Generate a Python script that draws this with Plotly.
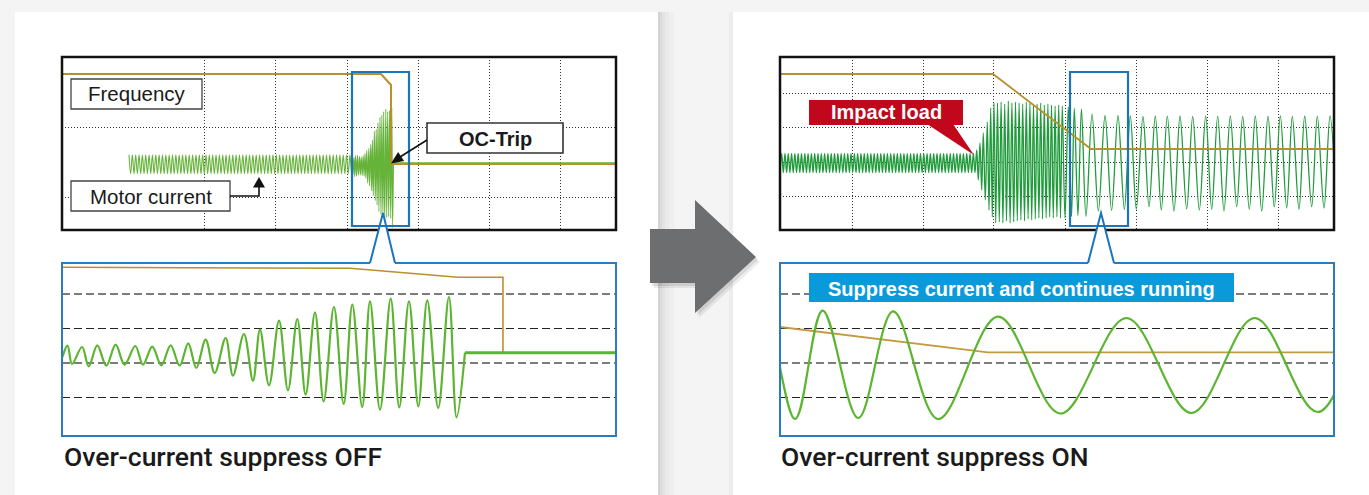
import plotly.graph_objects as go

W, H = 1369, 495

# ------------------------------------------------------------------ data
# Left example: over-current suppress OFF
# t = time (overview screen samples: upper scope 0..554, zoom window 290..347)
# v = signal level above the current zero line
off_steady_span = [67.0, 289.6]
off_steady_count = 134
off_steady_amp = 9.5

off_burst_t = [290.55, 291.03, 292.06, 292.75, 293.63, 294.56, 295.52, 296.44,
               297.54, 298.33, 299.29, 300.22, 301.18, 302.11, 302.99, 303.82,
               304.78, 305.71, 306.84, 307.59, 308.72, 309.65, 310.37, 311.30,
               312.33, 313.25, 314.21, 315.07, 316.03, 316.92, 317.98, 318.98,
               319.87, 320.89, 321.69, 322.72, 323.82, 324.70, 325.70, 326.66,
               327.58, 328.71, 329.81, 330.60, 331.46]
off_burst_v = [8.3, -10.0, 7.0, -12.3, 8.7, -11.7, 9.3, -10.7,
               8.0, -10.7, 7.3, -11.3, 8.7, -11.7, 10.7, -14.0,
               14.3, -19.0, 16.0, -21.7, 20.0, -26.7, 24.3, -31.3,
               33.3, -36.3, 35.0, -40.7, 41.7, -47.3, 47.0, -50.0,
               49.3, -53.0, 52.7, -55.7, 55.3, -53.3, 52.7, -52.3,
               53.7, -54.0, 57.0, -63.3, 1.3]
off_trip_t = [331.46, 554.0]
off_trip_v = [1.3, 1.3]

off_freq_overview_t = [0, 319, 329, 329, 554]
off_freq_overview_v = [90.3, 90.3, 79.3, 0.3, 0.3]
off_freq_zoom_t = [290, 319.63, 330.74, 335.37, 335.37]
off_freq_zoom_v = [86.7, 85.7, 76.7, 76.7, 1.3]

# Right example: over-current suppress ON
on_steady_span = [0.0, 195.0]
on_steady_count = 119
on_steady_amp = 9.7

on_growth_t = [196.7, 198.3, 200.0, 201.7, 203.3, 205.3, 207.3, 209.0, 210.7, 212.3, 214.0, 215.7]
on_growth_v = [13, -17, 20, -27, 30, -37, 41, -47, 55, -54, 60, -60]

on_big_span = [215.7, 282.3]
on_big_v = [60, -59, 61, -60, 59, -58,
            62, -60, 60, -59, 61, -58,
            60, -57, 59, -58, 61, -56,
            60, -57, 58, -56, 59, -55,
            60, -56, 58, -55, 59, -54,
            58, -55, 57, -54, 58, -55]

on_zoom_t = [282.3, 285.0, 288.3, 291.52, 294.31, 297.91, 301.44, 305.99,
             312.05, 318.36, 325.02, 331.59, 337.98, 344.37]
on_zoom_v = [57, -55, 56, -53.5, 54.8, -52.5, 54.2, -53.5,
             48.8, -48, 47.5, -47.5, 47.5, -46.5]

on_after_t = [350.3, 356.3, 363.0, 369.0, 375.3, 381.3, 387.3, 394.0, 400.0, 406.7,
              412.7, 419.3, 425.7, 431.7, 437.7, 444.0, 450.3, 456.7, 462.7, 469.3,
              475.3, 481.7, 488.0, 494.3, 500.3, 506.7, 512.3, 519.0, 524.7, 531.7,
              537.3, 544.0, 550.0, 556.5]
on_after_v = [47, -46.3, 46.5, -43.7, 47, -47, 46.8, -48, 47, -46,
              46.5, -47, 47, -46.3, 46.8, -48, 47, -43.7, 46.5, -46.3,
              47, -48, 46.8, -43.7, 47, -45, 46.5, -46.3, 47, -43.7,
              46.8, -45, 47, -46]

on_freq_overview_t = [0, 213, 311, 554]
on_freq_overview_v = [89, 89, 14, 14]
on_freq_zoom_t = [290, 311.01, 346]
on_freq_zoom_v = [38.5, 13.2, 13.2]

# scope grid (divisions) and zoom reference levels
tl_vgrid = [142, 213, 285, 356, 427, 498]
tl_hgrid = [37.3, -32.7]
tr_vgrid = [72, 143, 213, 285, 356, 427, 498]
tr_hgrid = [70, 36, 1, -33]
bl_dash_black = [25.3, -43.3]
bl_dash_gray = [60.3, -9.0]
br_dash_black = [36.8, -31.8]
br_dash_gray = [71.8, 2.5]

labels = ["Frequency", "Motor current", "OC-Trip", "Impact load",
          "Suppress current and continues running",
          "Over-current suppress OFF", "Over-current suppress ON"]


# ------------------------------------------------------------------ helpers
def steady(span, count, amp, first_sign):
    step = (span[1] - span[0]) / (count - 1)
    ts = [span[0] + i * step for i in range(count)]
    vs = [first_sign * amp * (1 if i % 2 == 0 else -1) for i in range(count)]
    return ts, vs


def spaced(span, vals):
    step = (span[1] - span[0]) / (len(vals) + 1)
    return [span[0] + (i + 1) * step for i in range(len(vals))], list(vals)


st_t, st_v = steady(off_steady_span, off_steady_count, off_steady_amp, 1)
off_t = st_t + off_burst_t
off_v = st_v + off_burst_v

s2_t, s2_v = steady(on_steady_span, on_steady_count, on_steady_amp, -1)
bg_t, bg_v = spaced(on_big_span, on_big_v)
on_t = s2_t + on_growth_t + bg_t + on_zoom_t + on_after_t
on_v = s2_v + on_growth_v + bg_v + on_zoom_v + on_after_v

fig = go.Figure()


def add(x, y, axes, color, width, shape="spline"):
    fig.add_trace(go.Scatter(x=x, y=y, xaxis=axes[0], yaxis=axes[1], mode="lines",
                             line=dict(color=color, width=width, shape=shape, simplify=False),
                             hoverinfo="skip", showlegend=False))


GOLD = "#b8902c"
# upper-left scope (overview, OFF)
add(off_t, off_v, ("x", "y"), "#66b33a", 1.1)
add(off_trip_t, off_trip_v, ("x", "y"), "#66b33a", 1.5, "linear")
add(off_freq_overview_t, off_freq_overview_v, ("x", "y"), GOLD, 2, "linear")
# lower-left zoom (OFF)
add(off_freq_zoom_t, off_freq_zoom_v, ("x2", "y2"), GOLD, 1.6, "linear")
add(off_t, off_v, ("x2", "y2"), "#5cb531", 2.2)
add(off_trip_t, off_trip_v, ("x2", "y2"), "#5cb531", 3, "linear")
# upper-right scope (overview, ON)
add(on_t, on_v, ("x3", "y3"), "#1f9b3b", 1.3)
add(on_freq_overview_t, on_freq_overview_v, ("x3", "y3"), GOLD, 1.8, "linear")
# lower-right zoom (ON)
add(on_freq_zoom_t, on_freq_zoom_v, ("x4", "y4"), "#c29a40", 1.8, "linear")
add(on_t, on_v, ("x4", "y4"), "#5cb531", 2.2)


def fx(x):
    return x / W


def fy(y):
    return 1 - y / H


def axis(domain, rng, anchor, vals=None, color=None, dash=None, width=1.0, minor=None):
    d = dict(domain=domain, range=rng, anchor=anchor, showticklabels=False, ticks="",
             zeroline=False, showline=False, fixedrange=True)
    if vals:
        d.update(tickmode="array", tickvals=vals, showgrid=True, gridcolor=color,
                 griddash=dash, gridwidth=width)
    else:
        d["showgrid"] = False
    if minor:
        d["minor"] = minor
    return d


DOT = "1px,2px"
DASH = "8px,4px"
tl_x = [fx(62), fx(616)]
tl_y = [fy(230), fy(57)]
bl_x = [fx(62), fx(616)]
bl_y = [fy(436), fy(263)]
tr_x = [fx(780), fx(1334)]
tr_y = [fy(230), fy(57)]
br_x = [fx(780), fx(1334)]
br_y = [fy(436), fy(263)]

minor_bl = dict(tickmode="array", tickvals=bl_dash_gray, showgrid=True, gridcolor="#7c7c7c",
                griddash=DASH, gridwidth=2, ticks="")
minor_br = dict(tickmode="array", tickvals=br_dash_gray, showgrid=True, gridcolor="#7c7c7c",
                griddash=DASH, gridwidth=2, ticks="")

layout_axes = dict(
    xaxis=axis(tl_x, [0, 554], "y", tl_vgrid, "#333333", DOT, 1),
    yaxis=axis(tl_y, [-65.7, 107.3], "x", tl_hgrid, "#333333", DOT, 1),
    xaxis2=axis(bl_x, [290, 347], "y2"),
    yaxis2=axis(bl_y, [-82, 91], "x2", bl_dash_black, "#222222", DASH, 1.4, minor_bl),
    xaxis3=axis(tr_x, [0, 554], "y3", tr_vgrid, "#333333", DOT, 1),
    yaxis3=axis(tr_y, [-67, 106], "x3", tr_hgrid, "#333333", DOT, 1),
    xaxis4=axis(br_x, [290, 346], "y4"),
    yaxis4=axis(br_y, [-70.5, 102.5], "x4", br_dash_black, "#222222", DASH, 1.4, minor_br),
)

shapes = []


def rect(x0, y0, x1, y1, layer="above", fill="rgba(0,0,0,0)", lc=None, lw=0):
    shapes.append(dict(type="rect", xref="paper", yref="paper", x0=fx(x0), x1=fx(x1),
                       y0=fy(y1), y1=fy(y0), layer=layer, fillcolor=fill,
                       line=dict(color=lc or "rgba(0,0,0,0)", width=lw)))


def poly(pts, closed=True, layer="above", fill="rgba(0,0,0,0)", lc=None, lw=0):
    d = "M" + "L".join(f"{fx(x):.6f},{fy(y):.6f}" for x, y in pts) + ("Z" if closed else "")
    shapes.append(dict(type="path", xref="paper", yref="paper", path=d, layer=layer,
                       fillcolor=fill, line=dict(color=lc or "rgba(0,0,0,0)", width=lw)))


# cards and shadows
for a, b, c in [(658, 660, "#d3d3d3"), (660, 662, "#dbdbdb"), (662, 665, "#e3e3e3"),
                (665, 669, "#eaeaea"), (669, 674, "#efefef")]:
    rect(a, 12, b, 500, layer="below", fill=c)
rect(729, 12, 733, 500, layer="below", fill="#ededed")
rect(15, 12, 658, 500, layer="below", fill="white")
rect(733, 12, 1375, 500, layer="below", fill="white")

# scope borders
rect(62, 57, 616, 230, lc="#111111", lw=2.5)
rect(780, 57, 1334, 230, lc="#111111", lw=2.5)

BLUE = "#1b75bc"
# callout triangles (white body)
poly([(370, 263), (383, 213), (395, 263)], fill="white")
poly([(1088, 263), (1101, 213), (1114, 263)], fill="white")
# highlight windows
rect(352, 72, 409, 226, lc=BLUE, lw=2.2)
rect(1070, 72, 1128, 226, lc=BLUE, lw=2.2)
# zoom panel borders with callout opening
poly([(370, 263), (62, 263), (62, 436), (616, 436), (616, 263), (395, 263)], closed=False, lc="#2a7bbf", lw=2)
poly([(1088, 263), (780, 263), (780, 436), (1334, 436), (1334, 263), (1114, 263)], closed=False, lc="#2a7bbf", lw=2)
poly([(370, 263), (383, 213), (395, 263)], closed=False, lc=BLUE, lw=2)
poly([(1088, 263), (1101, 213), (1114, 263)], closed=False, lc=BLUE, lw=2)

# label boxes
rect(71, 79, 202, 109, fill="white", lc="#444444", lw=1.3)
rect(71, 181, 230, 211, fill="white", lc="#444444", lw=1.3)
rect(427, 123, 563, 153, fill="white", lc="#333333", lw=1.6)
# motor current arrow
poly([(230, 196), (259, 196), (259, 186)], closed=False, lc="#111111", lw=1.6)
poly([(253, 187.5), (265, 187.5), (259, 177)], fill="#111111")
# OC-trip arrow
poly([(427, 140), (400, 157)], closed=False, lc="#111111", lw=1.6)
poly([(391, 163.5), (404.1, 161.1), (398.1, 151.9)], fill="#111111")

# impact load callout
RED = "#c0071b"
rect(809, 100, 963, 125, fill=RED)
poly([(927, 124), (953, 124), (974, 155)], fill=RED)
# suppress banner
rect(809, 273, 1234, 302, fill="#0b9ad9")

# big grey arrow with soft shadow
arrow = [(650, 229), (695, 229), (695, 200), (756, 257), (695, 313), (695, 283), (650, 283)]
for dx, dy, op in [(4, 5, "rgba(0,0,0,0.07)"), (2, 3, "rgba(0,0,0,0.09)")]:
    poly([(x + dx, y + dy) for x, y in arrow], fill=op)
poly(arrow, fill="#6d6e70")

FONT = "Liberation Sans, Arial, Helvetica, sans-serif"
CAP_FONT = "Roboto, Liberation Sans, Arial, sans-serif"
annots = []


def ann(text, x, y, size, color="#1a1a1a", anchor="center", bold=False, family=FONT, weight=None):
    f = dict(family=family, size=size, color=color)
    if weight:
        f["weight"] = weight
    annots.append(dict(text=(f"<b>{text}</b>" if bold else text), x=fx(x), y=fy(y),
                       xref="paper", yref="paper", showarrow=False, xanchor=anchor,
                       yanchor="middle", font=f))


ann(labels[0], 136.5, 93.5, 20.5)
ann(labels[1], 150.5, 196.5, 20.5)
ann(labels[2], 495, 139, 20, bold=True)
ann(labels[3], 886, 112, 20, color="white", bold=True)
ann(labels[4], 1022, 288.5, 20, color="white", bold=True)
ann(labels[5], 62, 456, 26.5, anchor="left", family=CAP_FONT, weight=500)
ann(labels[6], 779, 456, 26.5, anchor="left", family=CAP_FONT, weight=500)

fig.update_layout(width=W, height=H, margin=dict(l=0, r=0, t=0, b=0),
                  paper_bgcolor="#f4f4f4", plot_bgcolor="rgba(0,0,0,0)",
                  showlegend=False, shapes=shapes, annotations=annots, **layout_axes)

fig.write_html("out.html", config={"displayModeBar": False, "staticPlot": True},
               post_script="document.body.style.margin='0';document.body.style.background='#f4f4f4';")
